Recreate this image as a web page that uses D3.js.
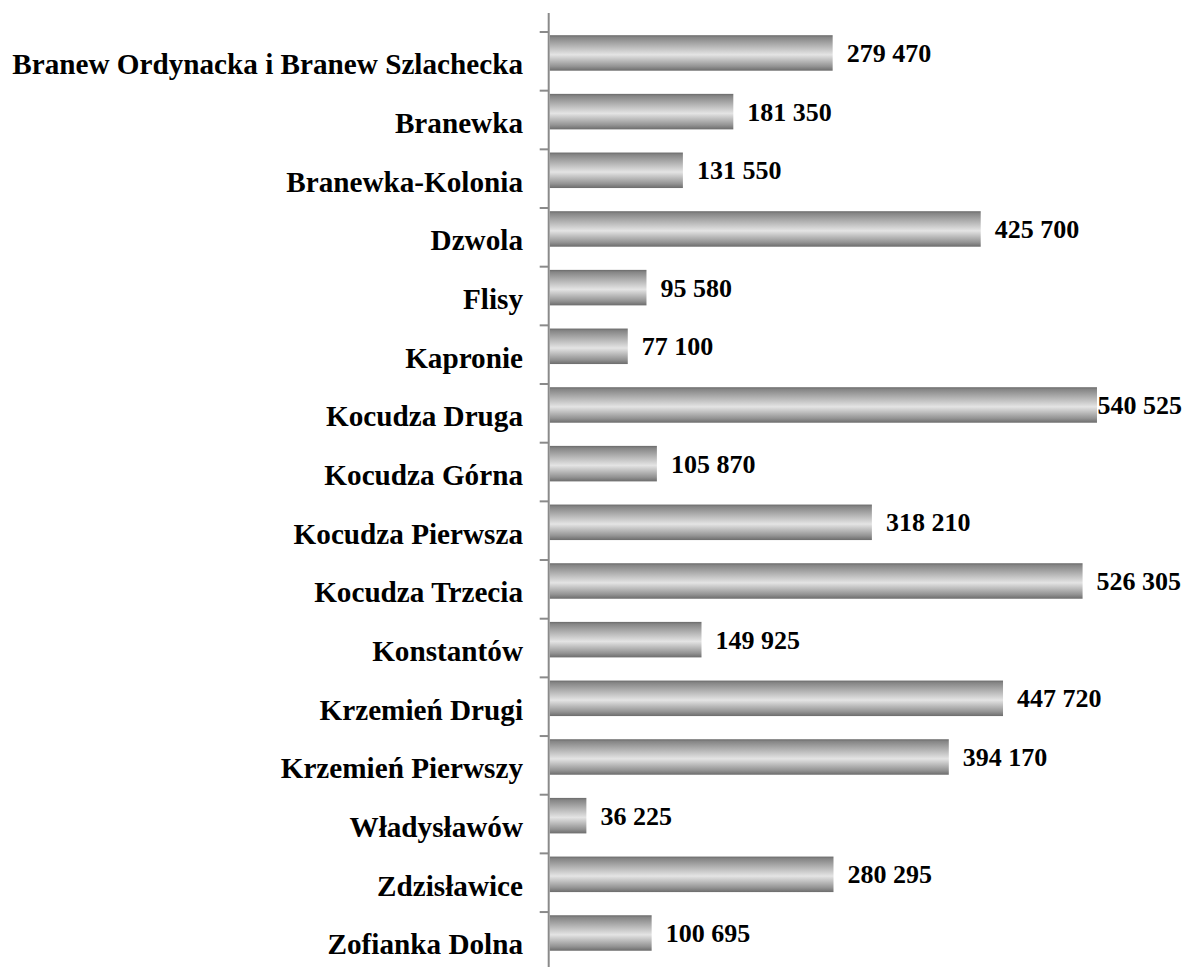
<!DOCTYPE html>
<html>
<head>
<meta charset="utf-8">
<script src="https://cdn.jsdelivr.net/npm/d3@7"></script>
<style>
  html, body { margin: 0; padding: 0; background: #fff; }
  svg { display: block; }
  text { font-family: "Liberation Serif", "Times New Roman", serif; font-weight: bold; fill: #000; }
</style>
</head>
<body>
<div id="chart"></div>
<script>
const categories = [
    "Branew Ordynacka i Branew Szlachecka", "Branewka", "Branewka-Kolonia", "Dzwola",
    "Flisy", "Kapronie", "Kocudza Druga", "Kocudza Górna", "Kocudza Pierwsza",
    "Kocudza Trzecia", "Konstantów", "Krzemień Drugi", "Krzemień Pierwszy",
    "Władysławów", "Zdzisławice", "Zofianka Dolna"
];
const values = [
    279470, 181350, 131550, 425700, 95580, 77100, 540525, 105870, 318210,
    526305, 149925, 447720, 394170, 36225, 280295, 100695
];

const width = 1184, height = 967;
const axisX = 549.7;
const step = 58.67;
const topY = 32;

const svg = d3.select("#chart").append("svg")
    .attr("width", width)
    .attr("height", height);

const grad = svg.append("defs").append("linearGradient")
    .attr("id", "barGrad")
    .attr("x1", "0%").attr("y1", "0%")
    .attr("x2", "0%").attr("y2", "100%");
[["0%", "#6a6a6a"], ["6%", "#858585"], ["55%", "#e4e4e4"], ["88%", "#939393"], ["100%", "#6c6c6c"]]
    .forEach(s => grad.append("stop").attr("offset", s[0]).attr("stop-color", s[1]));

const x = d3.scaleLinear()
    .domain([0, 600000])
    .range([axisX, axisX + 607.5]);

const y = d3.scaleBand()
    .domain(categories)
    .range([topY, topY + step * categories.length])
    .paddingInner(0);

const data = categories.map((c, i) => ({ name: c, value: values[i] }));
const barOff = 3.2, barH = 35.5;

svg.selectAll(".bar")
    .data(data)
    .enter()
    .append("rect")
    .attr("class", "bar")
    .attr("x", x(0))
    .attr("y", d => y(d.name) + barOff)
    .attr("width", d => x(d.value) - x(0))
    .attr("height", barH)
    .attr("fill", "url(#barGrad)");

// category axis
const axis = svg.append("g").attr("class", "axis");
axis.append("line")
    .attr("x1", axisX - 1).attr("x2", axisX - 1)
    .attr("y1", 13).attr("y2", height)
    .attr("stroke", "#8a8a8a")
    .attr("stroke-width", 2);
axis.selectAll(".tick")
    .data(categories)
    .enter()
    .append("line")
    .attr("x1", axisX - 10).attr("x2", axisX - 1)
    .attr("y1", d => y(d)).attr("y2", d => y(d))
    .attr("stroke", "#8a8a8a")
    .attr("stroke-width", 2);

const fmt = v => d3.format(",")(v).replace(/,/g, " ");

axis.selectAll(".label")
    .data(categories)
    .enter()
    .append("text")
    .attr("class", "label")
    .attr("text-anchor", "end")
    .attr("x", 523)
    .attr("y", d => y(d) + step * 0.72)
    .style("font-size", "29.2px")
    .text(d => d);

svg.selectAll(".value")
    .data(data)
    .enter()
    .append("text")
    .attr("class", "value")
    .attr("y", d => y(d.name) + barOff + barH / 2 + 9)
    .style("font-size", "26px")
    .text(d => fmt(d.value))
    .attr("x", function(d) {
        const w = this.getComputedTextLength();
        return Math.min(x(d.value) + 14, width - w - 2);
    });
</script>
</body>
</html>
